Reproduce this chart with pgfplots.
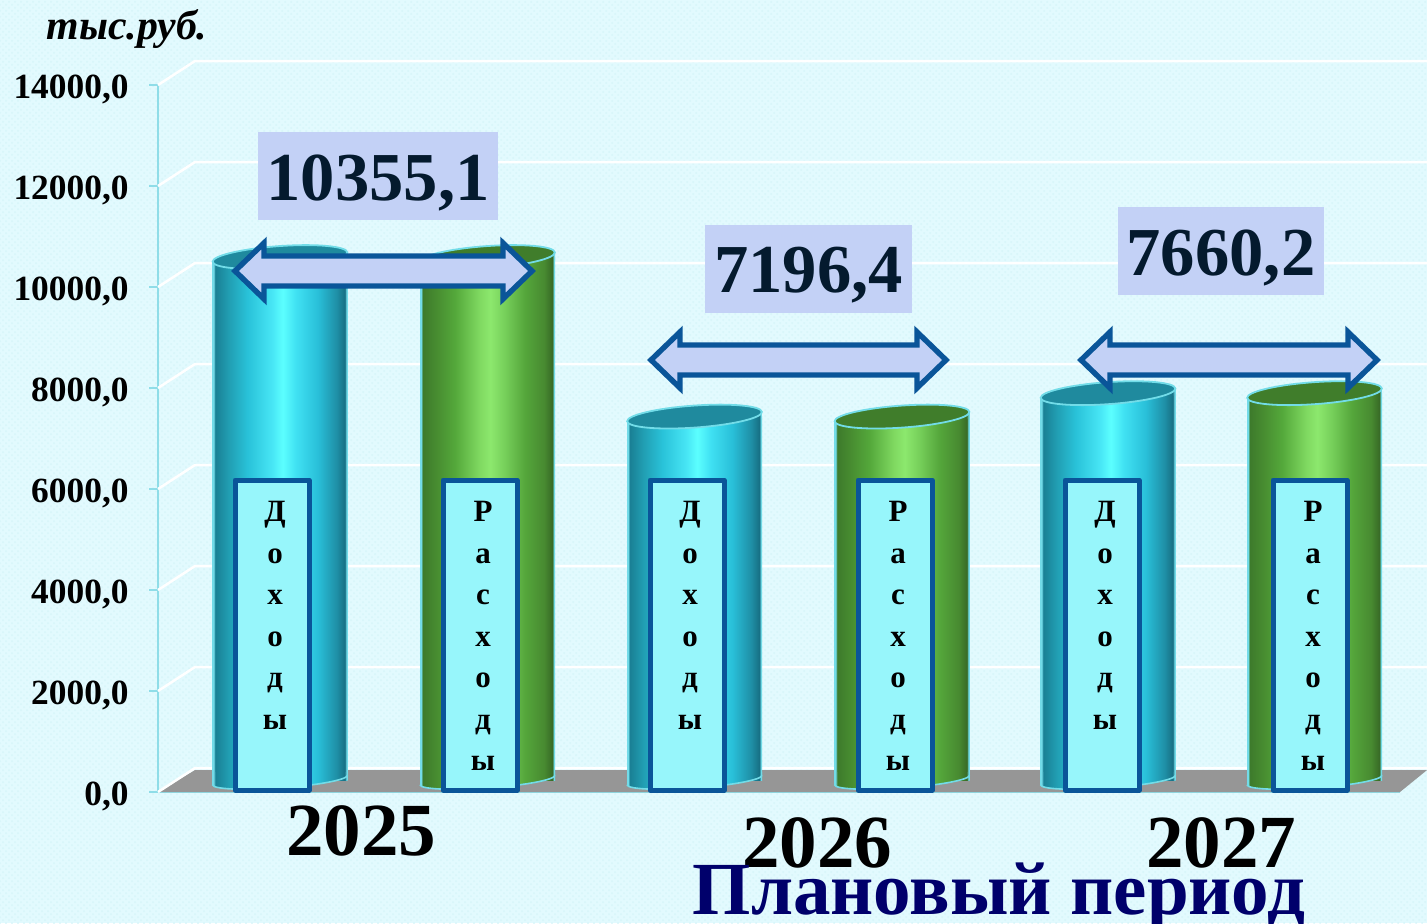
\documentclass[border=0pt]{standalone}
\usepackage{pgfplots}
\pgfplotsset{compat=1.18}
\usetikzlibrary{patterns}
\usepackage{fontspec}
\setmainfont{Liberation Serif}
\definecolor{bgc}{HTML}{E2FAFE}
\definecolor{bgd}{HTML}{D7F5F9}
\definecolor{axc}{HTML}{8FDDE8}
\definecolor{boxc}{HTML}{C3D1F6}
\definecolor{arrc}{HTML}{0A5599}
\definecolor{lblc}{HTML}{97F6FB}
\definecolor{numc}{HTML}{041A2E}
\definecolor{edgec}{HTML}{72DCE8}
\definecolor{navyc}{HTML}{00006B}
\definecolor{topblue}{HTML}{1F8A9E}
\definecolor{topgreen}{HTML}{407D2B}
\pgfdeclarehorizontalshading{cylblue}{100bp}{
 rgb(0bp)=(0.45,0.86,0.91);
 rgb(25.4bp)=(0.45,0.86,0.91);
 rgb(26bp)=(0.10,0.50,0.58);
 rgb(31bp)=(0.13,0.62,0.70);
 rgb(38bp)=(0.16,0.76,0.85);
 rgb(47bp)=(0.28,0.90,0.96);
 rgb(51bp)=(0.36,1.00,1.00);
 rgb(56bp)=(0.25,0.88,0.95);
 rgb(64bp)=(0.16,0.75,0.85);
 rgb(71bp)=(0.12,0.56,0.65);
 rgb(74bp)=(0.09,0.44,0.52);
 rgb(74.6bp)=(0.45,0.86,0.91);
 rgb(100bp)=(0.45,0.86,0.91)}
\pgfdeclarehorizontalshading{cylgreen}{100bp}{
 rgb(0bp)=(0.45,0.86,0.91);
 rgb(25.4bp)=(0.45,0.86,0.91);
 rgb(26bp)=(0.24,0.48,0.17);
 rgb(31bp)=(0.28,0.55,0.19);
 rgb(38bp)=(0.33,0.66,0.23);
 rgb(47bp)=(0.50,0.85,0.38);
 rgb(51bp)=(0.55,0.91,0.43);
 rgb(56bp)=(0.47,0.82,0.36);
 rgb(64bp)=(0.33,0.65,0.23);
 rgb(71bp)=(0.28,0.54,0.19);
 rgb(74bp)=(0.22,0.42,0.15);
 rgb(74.6bp)=(0.45,0.86,0.91);
 rgb(100bp)=(0.45,0.86,0.91)}
\newcommand{\pp}[2]{\pgfqpoint{#1pt}{#2pt}}
% skewed top of a cylinder: shaded collar, mask of the flat corner, lid
\newcommand{\cyltopmark}[1]{%
 \pgfpathmoveto{\pp{-33.75}{-2.36}}\pgfpathlineto{\pp{33.75}{2.36}}\pgfpathlineto{\pp{33.75}{-1.2}}\pgfpathlineto{\pp{-33.75}{-3.5}}\pgfpathclose
 \pgfshadepath{#1}{0}\pgfusepath{discard}%
 \begin{pgfscope}\pgfsetfillcolor{bgc}%
 \pgfpathrectanglecorners{\pp{-34.6}{-2.36}}{\pp{-18}{0.6}}\pgfusepath{fill}\end{pgfscope}%
 \pgftransformrotate{4}%
 \pgfpathellipse{\pgfpointorigin}{\pp{33.75}{0}}{\pp{0}{5.5}}%
 \pgfusepathqfillstroke}
\pgfdeclareplotmark{cyltopblue}{\cyltopmark{cylblue}}
\pgfdeclareplotmark{cyltopgreen}{\cyltopmark{cylgreen}}
% skewed lower half of a cylinder base
\newcommand{\cylbotpath}{%
 \pgfpathmoveto{\pp{-33.75}{-2.36}}%
 \pgfpathcurveto{\pp{-33.75}{-4.57}}{\pp{-18.64}{-5.30}}{\pp{0}{-4}}%
 \pgfpathcurveto{\pp{18.64}{-2.70}}{\pp{33.75}{0.15}}{\pp{33.75}{2.36}}}
\newcommand{\cylbotmark}[1]{%
 \cylbotpath\pgfpathlineto{\pp{33.75}{4}}\pgfpathlineto{\pp{-33.75}{4}}\pgfpathclose
 \pgfshadepath{#1}{0}\pgfusepath{discard}%
 \cylbotpath\pgfusepath{stroke}}
\pgfdeclareplotmark{cylbotblue}{\cylbotmark{cylblue}}
\pgfdeclareplotmark{cylbotgreen}{\cylbotmark{cylgreen}}
\newcommand{\gridl}[2]{\addplot[white,line width=1.25pt,forget plot] coordinates {(158,#1)(195,#2)(1427,#2)};}
\newcommand{\px}[2]{({(#1)*0.5pt},{(923-(#2))*0.5pt})}
\newcommand{\dblarrow}[3]{% left tip, right tip, y
 \draw[arrc,line width=2.7pt,line join=miter,fill=boxc]
  \px{#1}{#3} -- \px{#1+29}{#3-28} -- \px{#1+29}{#3-15} -- \px{#2-29}{#3-15} -- \px{#2-29}{#3-28}
  -- \px{#2}{#3} -- \px{#2-29}{#3+28} -- \px{#2-29}{#3+15} -- \px{#1+29}{#3+15} -- \px{#1+29}{#3+28} -- cycle;}
\newcommand{\valbox}[6]{%
 \fill[boxc] \px{#1}{#2} rectangle \px{#3}{#4};
 \node[numc,font=\fontsize{34.3}{34}\selectfont\bfseries,inner sep=0pt] at \px{(#1+#3)/2}{#5} {#6};}
\newcommand{\lblbox}[2]{%
 \draw[arrc,line width=2.5pt,fill=lblc,line join=round] \px{#1}{480} rectangle \px{#1+74}{790};
 \node[font=\fontsize{15.5}{20.75}\selectfont\bfseries,anchor=north,align=center,inner sep=0pt] at \px{#1+40}{501} {#2};}
\begin{document}
\begin{tikzpicture}
\clip (0,0) rectangle (713.5pt,461.5pt);
\fill[bgc] (0,0) rectangle (713.5pt,461.5pt);
\fill[pattern=crosshatch dots,pattern color=bgd] (0,0) rectangle (713.5pt,461.5pt);
\begin{axis}[
 at={(79pt,65.5pt)},anchor=south west,scale only axis,
 width=621pt,height=353.5pt,
 xmin=158,xmax=1400,ymin=0,ymax=14000,
 clip=false,
 axis x line=bottom,axis y line=left,
 axis line style={-,axc,line width=1pt},
 xtick=\empty,
 ytick={0,2000,4000,6000,8000,10000,12000,14000},
 scaled y ticks=false,
 ytick style={axc,line width=1pt},
 tick align=outside,
 major tick length=4.5pt,
 y tick label style={font=\fontsize{17.7}{17.7}\selectfont\bfseries,inner sep=0pt,xshift=-10pt,yshift=-2pt},
 /pgf/number format/.cd,assume math mode=true,fixed,fixed zerofill,precision=1,use comma,1000 sep={},
]
\addplot[fill=black!41,draw=none,forget plot] coordinates {(158,0)(195,435)(1427,435)(1400,0)} -- cycle;
\gridl{0}{475}
\gridl{2000}{2475}
\gridl{4000}{4475}
\gridl{6000}{6475}
\gridl{8000}{8475}
\gridl{10000}{10475}
\gridl{12000}{12475}
\gridl{14000}{14475}
\end{axis}
\begin{axis}[
 at={(79pt,71.5pt)},anchor=south west,scale only axis,
 width=621pt,height=353.5pt,
 xmin=158,xmax=1400,ymin=0,ymax=14000,
 clip=false,hide axis,
 bars/.style={ybar,bar width=67.5pt,bar shift=0pt,draw=none,shade,shading=#1},
]
\addplot[bars=cylblue] coordinates {(280,10355.1)};
\addplot[bars=cylgreen] coordinates {(487.5,10355.1)};
\addplot[bars=cylblue] coordinates {(694.5,7196.4)};
\addplot[bars=cylgreen] coordinates {(902,7196.4)};
\addplot[bars=cylblue] coordinates {(1108,7660.2)};
\addplot[bars=cylgreen] coordinates {(1314.5,7660.2)};
\addplot[only marks,mark=cylbotblue,mark options={draw=edgec,line width=0.8pt}] coordinates {(280,0)(694.5,0)(1108,0)};
\addplot[only marks,mark=cylbotgreen,mark options={draw=edgec,line width=0.8pt}] coordinates {(487.5,0)(902,0)(1314.5,0)};
\addplot[only marks,mark=cyltopblue,mark options={fill=topblue,draw=edgec,line width=0.9pt}] coordinates {(280,10355.1)(694.5,7196.4)(1108,7660.2)};
\addplot[only marks,mark=cyltopgreen,mark options={fill=topgreen,draw=edgec,line width=0.9pt}] coordinates {(487.5,10355.1)(902,7196.4)(1314.5,7660.2)};
\end{axis}
\node[font=\fontsize{20.9}{20}\selectfont\bfseries\itshape,inner sep=0pt] at \px{127}{29} {тыс.руб.};
\valbox{258}{132}{498}{220}{183}{10355,1}
\valbox{705}{225}{912}{313}{275}{7196,4}
\valbox{1118}{207}{1324}{295}{258}{7660,2}
\dblarrow{235}{532}{271}
\dblarrow{651}{946}{360}
\dblarrow{1081}{1377}{360}
\lblbox{235}{Д\\о\\х\\о\\д\\ы}
\lblbox{443}{Р\\а\\с\\х\\о\\д\\ы}
\lblbox{650}{Д\\о\\х\\о\\д\\ы}
\lblbox{858}{Р\\а\\с\\х\\о\\д\\ы}
\lblbox{1065}{Д\\о\\х\\о\\д\\ы}
\lblbox{1273}{Р\\а\\с\\х\\о\\д\\ы}
\node[font=\fontsize{37.5}{37.5}\selectfont\bfseries,inner sep=0pt] at \px{361}{831} {2025};
\node[font=\fontsize{37.5}{37.5}\selectfont\bfseries,inner sep=0pt] at \px{817}{843} {2026};
\node[font=\fontsize{37.5}{37.5}\selectfont\bfseries,inner sep=0pt] at \px{1221}{843} {2027};
\node[navyc,font=\fontsize{37.5}{37.5}\selectfont\bfseries,inner sep=0pt] at \px{999}{897} {Плановый период};
\end{tikzpicture}
\end{document}
